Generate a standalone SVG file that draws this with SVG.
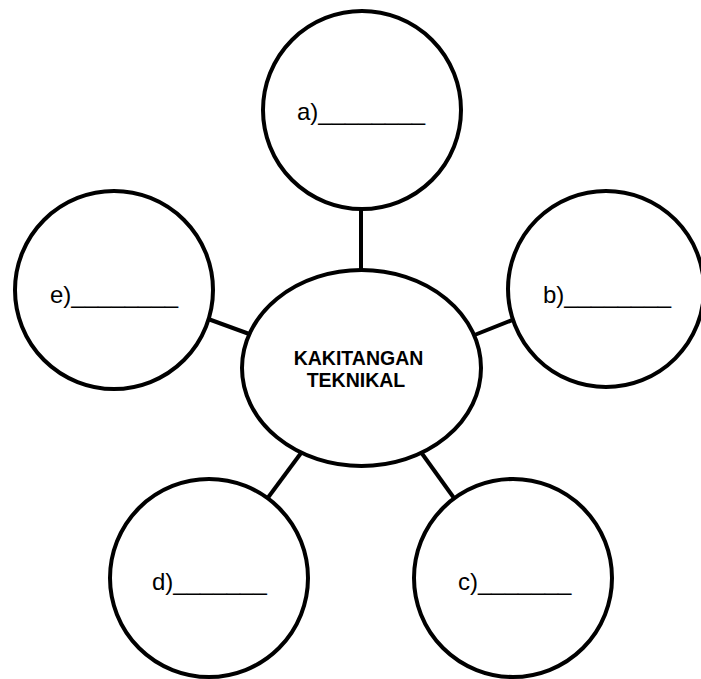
<svg xmlns="http://www.w3.org/2000/svg" width="701" height="679" viewBox="0 0 701 679">
<style>
.shape{fill:#fff;stroke:#000;stroke-width:4}
.conn{stroke:#000;stroke-width:4;fill:none}
.lbl{font-family:"Liberation Sans",Arial,sans-serif;font-size:24px;fill:#000}
.title{font-family:"Liberation Sans",Arial,sans-serif;font-size:19.5px;font-weight:bold;fill:#000;text-anchor:middle}
</style>
<rect width="701" height="679" fill="#fff"/>
<g id="connectors">
<line class="conn" x1="361" y1="200" x2="361" y2="275"/>
<line class="conn" x1="200" y1="316" x2="252" y2="335"/>
<line class="conn" x1="472" y1="336" x2="520" y2="317"/>
<line class="conn" x1="264" y1="503" x2="304" y2="449"/>
<line class="conn" x1="418" y1="448" x2="459" y2="505"/>
</g>
<g id="node-a">
<circle class="shape" cx="362" cy="110" r="99"/>
<text class="lbl" x="297" y="120">a)________</text>
</g>
<g id="node-e">
<circle class="shape" cx="114" cy="290" r="99"/>
<text class="lbl" x="50" y="303">e)________</text>
</g>
<g id="node-b">
<circle class="shape" cx="606" cy="289" r="98"/>
<text class="lbl" x="543" y="303">b)________</text>
</g>
<g id="node-d">
<circle class="shape" cx="209" cy="578" r="99"/>
<text class="lbl" x="152" y="590">d)_______</text>
</g>
<g id="node-c">
<circle class="shape" cx="513" cy="578" r="99"/>
<text class="lbl" x="458" y="590">c)_______</text>
</g>
<g id="node-center">
<ellipse class="shape" cx="361.5" cy="368" rx="119.5" ry="98"/>
<text class="title" x="358.5" y="365">KAKITANGAN</text>
<text class="title" x="356" y="387">TEKNIKAL</text>
</g>
</svg>
